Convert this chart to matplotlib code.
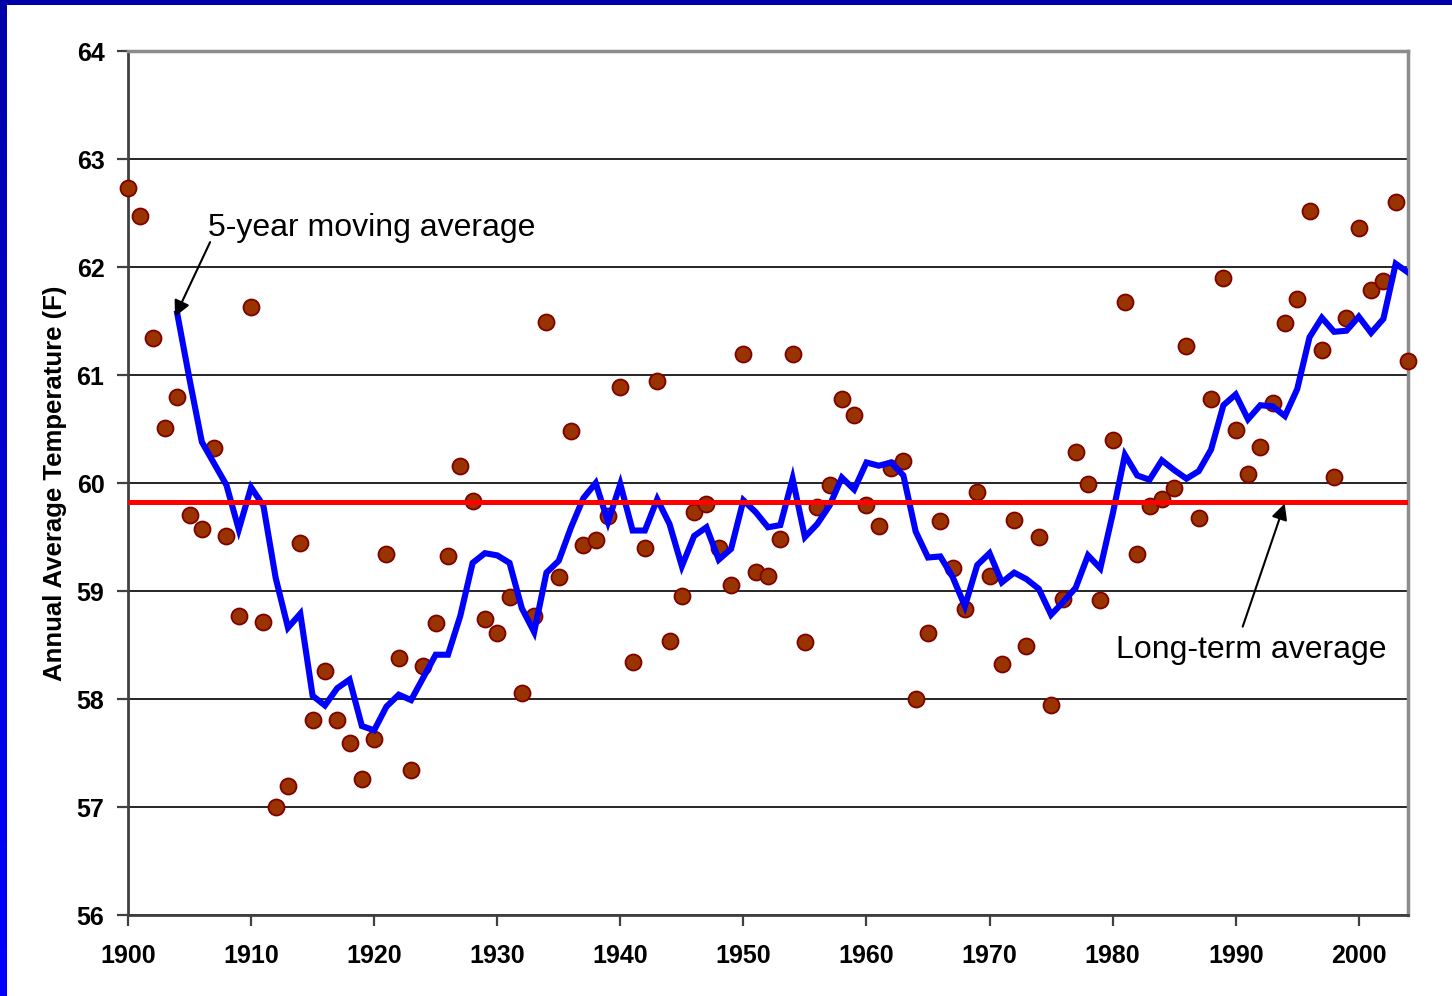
import numpy as np
import matplotlib
matplotlib.use("Agg")
import matplotlib.pyplot as plt
from matplotlib.colors import LinearSegmentedColormap
from matplotlib.patches import Rectangle

plt.rcParams['font.family'] = ['Liberation Sans', 'DejaVu Sans']

# ---------------- data ----------------
years = list(range(1900, 2005))
annual_temp = [
    62.73, 62.47, 61.34, 60.51, 60.80, 59.70, 59.57, 60.32, 59.51, 58.77,  # 1900s
    61.63, 58.71, 57.00, 57.19, 59.44, 57.81, 58.26, 57.81, 57.59, 57.26,  # 1910s
    57.63, 59.34, 58.38, 57.34, 58.31, 58.70, 59.32, 60.16, 59.83, 58.74,  # 1920s
    58.61, 58.94, 58.06, 58.77, 61.49, 59.13, 60.48, 59.43, 59.47, 59.69,  # 1930s
    60.89, 58.34, 59.40, 60.94, 58.54, 58.95, 59.73, 59.81, 59.40, 59.06,  # 1940s
    61.19, 59.18, 59.14, 59.48, 61.19, 58.53, 59.78, 59.98, 60.78, 60.63,  # 1950s
    59.80, 59.60, 60.14, 60.20, 58.00, 58.61, 59.65, 59.21, 58.83, 59.92,  # 1960s
    59.14, 58.32, 59.66, 58.49, 59.50, 57.94, 58.93, 60.29, 59.99, 58.92,  # 1970s
    60.40, 61.68, 59.34, 59.79, 59.85, 59.95, 61.27, 59.68, 60.78, 61.90,  # 1980s
    60.49, 60.08, 60.33, 60.74, 61.48, 61.70, 62.52, 61.23, 60.06, 61.53,  # 1990s
    62.36, 61.79, 61.87, 62.60, 61.13,                                      # 2000s
]

ma_years = list(range(1904, 2005))
moving_avg = [
    61.57, 60.96, 60.38, 60.18, 59.98, 59.57,                              # 1904-1909
    59.96, 59.79, 59.12, 58.66, 58.79, 58.03, 57.94, 58.10, 58.18, 57.75,  # 1910s
    57.71, 57.93, 58.04, 57.99, 58.20, 58.41, 58.41, 58.77, 59.26, 59.35,  # 1920s
    59.33, 59.26, 58.84, 58.62, 59.17, 59.28, 59.59, 59.86, 60.00, 59.64,  # 1930s
    59.99, 59.56, 59.56, 59.85, 59.62, 59.23, 59.51, 59.59, 59.29, 59.39,  # 1940s
    59.84, 59.73, 59.59, 59.61, 60.04, 59.50, 59.62, 59.79, 60.05, 59.94,  # 1950s
    60.19, 60.16, 60.19, 60.07, 59.55, 59.31, 59.32, 59.13, 58.86, 59.24,  # 1960s
    59.35, 59.08, 59.17, 59.11, 59.02, 58.78, 58.90, 59.03, 59.33, 59.21,  # 1970s
    59.71, 60.26, 60.07, 60.03, 60.21, 60.12, 60.04, 60.11, 60.31, 60.72,  # 1980s
    60.82, 60.59, 60.72, 60.71, 60.62, 60.87, 61.35, 61.53, 61.40, 61.41,  # 1990s
    61.54, 61.39, 61.52, 62.03, 61.95,                                      # 2000s
]

long_term_avg = 59.82

x_ticks = list(range(1900, 2001, 10))
y_ticks = list(range(56, 65))
y_label = "Annual Average Temperature (F)"
ma_label = "5-year moving average"
lt_label = "Long-term average"

# ---------------- figure ----------------
W, H = 1452, 996
fig = plt.figure(figsize=(W / 100, H / 100), dpi=100)
fig.patch.set_facecolor('white')

# blue frame (top band + left gradient band)
fig.add_artist(Rectangle((0, 1 - 5 / H), 1, 5 / H, transform=fig.transFigure,
                         facecolor='#0000A8', edgecolor='none', zorder=10))
bax = fig.add_axes([0, 0, 7 / W, 1])
grad = np.linspace(0, 1, 256).reshape(-1, 1)
cmap = LinearSegmentedColormap.from_list('frame', ['#0000A8', '#0000FF'])
bax.imshow(grad, aspect='auto', cmap=cmap, origin='upper')
bax.axis('off')

ax = fig.add_axes([128 / W, 1 - 915 / H, 1280 / W, 864 / H])
ax.set_facecolor('white')

# gridlines
ax.set_yticks(y_ticks)
ax.set_xticks(x_ticks)
ax.yaxis.grid(True, color='black', lw=1.2, zorder=1)
ax.xaxis.grid(False)
ax.set_axisbelow(True)

# data
ax.plot(years, annual_temp, 'o', ms=11.5, mfc='#993300', mec='#800000',
        mew=1.3, zorder=3, clip_on=False)
ax.plot(ma_years, moving_avg, color='#0000FF', lw=4.4, zorder=4,
        solid_joinstyle='miter')
ax.axhline(long_term_avg, color='#FF0000', lw=3.6, zorder=5)

ax.set_xlim(1900, 2004)
ax.set_ylim(56, 64)

# spines
for s in ['left', 'bottom']:
    ax.spines[s].set_color('#404040')
    ax.spines[s].set_linewidth(2)
for s in ['top', 'right']:
    ax.spines[s].set_color('#8c8c8c')
    ax.spines[s].set_linewidth(2.5)

ax.tick_params(axis='both', direction='out', length=8, width=1.6,
               color='#404040', labelsize=18)
ax.tick_params(axis='y', pad=9)
ax.tick_params(axis='x', pad=13)
for lbl in ax.get_xticklabels() + ax.get_yticklabels():
    lbl.set_fontweight('bold')

fig.text(55 / W, 1 - 483 / H, y_label, rotation=90, ha='center', va='center',
         fontsize=18.5, fontweight='bold')

# annotations
arrow_kw = dict(arrowstyle='-|>', color='black', lw=1.5, mutation_scale=24,
                shrinkA=0, shrinkB=0)
ax.text(1906.5, 62.29, ma_label, ha='left', va='baseline', fontsize=23, zorder=6)
ax.annotate('', xy=(1903.82, 61.54), xytext=(1906.67, 62.23),
            arrowprops=arrow_kw, zorder=6)
ax.text(1980.3, 58.38, lt_label, ha='left', va='baseline', fontsize=23, zorder=6)
ax.annotate('', xy=(1993.98, 59.81), xytext=(1990.57, 58.67),
            arrowprops=arrow_kw, zorder=6)

fig.savefig('out.png', dpi=100)
